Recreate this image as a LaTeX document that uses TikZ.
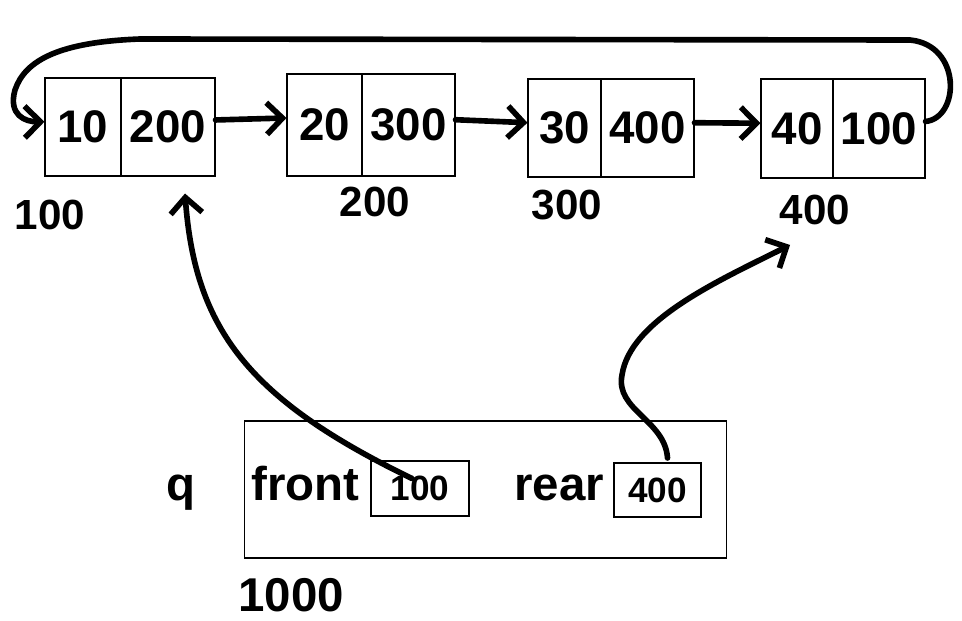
\documentclass[tikz,border=0pt]{standalone}
\usepackage{fontspec}
\setmainfont{Liberation Sans}
\usetikzlibrary{arrows.meta}

\begin{document}
\begin{tikzpicture}[x=0.02cm,y=-0.02cm,
    cell/.style={draw,line width=0.6pt,inner sep=0pt,font=\bfseries\fontsize{26}{26}\selectfont},
    addr/.style={font=\bfseries\fontsize{24}{24}\selectfont},
    word/.style={inner sep=0pt,font=\bfseries\fontsize{27}{27}\selectfont},
    ptr/.style={line width=3.2pt,line cap=round,line join=round,-{Straight Barb[length=9pt,width=18pt]}}]
    \useasboundingbox (0,0) rectangle (962,621);
    % list nodes: data cell and next cell
    \foreach \n/\l/\m/\r/\t/\b/\d/\p in {1/45/121/215/78/176/10/200,2/287/362/455/74/176/20/300,3/528/601/694/79/177/30/400,4/761/833/925/79/178/40/100}
    {
      \node[cell,minimum width={(\m-\l)*0.02cm},minimum height={(\b-\t)*0.02cm}] (data\n) at ({(\l+\m)/2},{(\t+\b)/2}) {\d};
      \node[cell,minimum width={(\r-\m)*0.02cm},minimum height={(\b-\t)*0.02cm}] (next\n) at ({(\m+\r)/2},{(\t+\b)/2}) {\p};
    }
    \foreach \n/\x/\y/\v in {1/50/215/100,2/375/202/200,3/567/205/300,4/815/210/400}
      \node[addr] (addr\n) at (\x,\y) {\v};
    \draw[ptr] ([yshift=4pt]next1.east) -- ([yshift=4pt]data2.west);
    \draw[ptr] ([yshift=3pt]next2.east) -- ([yshift=3pt]data3.west);
    \draw[ptr] ([yshift=3pt]next3.east) -- ([yshift=3pt]data4.west);
    \draw[ptr] ([yshift=4pt]next4.east) .. controls (960,118) and (962,45) .. (910,40) -- (140,39)
      .. controls (60,42) and (25,60) .. (15,90) .. controls (8,115) and (25,122) .. ([yshift=3pt]data1.west);
    % the queue
    \node[draw,line width=0.6pt,minimum width=9.66cm,minimum height=2.74cm] (qbox) at (485.5,489.5) {};
    \node[word,anchor=base] (q) at (181,500) {q};
    \node[word,anchor=base west] (front) at (251,500) {front};
    \node[word,anchor=base west] (rear) at (514,500) {rear};
    \node[draw,line width=0.6pt,minimum width=1.96cm,minimum height=1.1cm,inner sep=0pt,font=\bfseries\fontsize{20}{20}\selectfont] (fval) at (420,488.5) {100};
    \node[draw,line width=0.6pt,minimum width=1.74cm,minimum height=1.08cm,inner sep=0pt,font=\bfseries\fontsize{20}{20}\selectfont] (rval) at (657.5,490) {400};
    \node[word,anchor=base west] (qaddr) at (238,611) {1000};
    \coordinate (ftail) at ([shift={(-8,-10)}]fval.center);
    \coordinate (rtail) at ([shift={(10,-32)}]rval.center);
    \draw[ptr] (ftail) .. controls (250,400) and (195,330) .. ([shift={(17,17)}]next1.south);
    \draw[ptr] (rtail) .. controls (665,420) and (615,410) .. (622,375)
      .. controls (630,320) and (720,280) .. ([shift={(-25,35)}]addr4.center);
  \end{tikzpicture}
\end{document}
